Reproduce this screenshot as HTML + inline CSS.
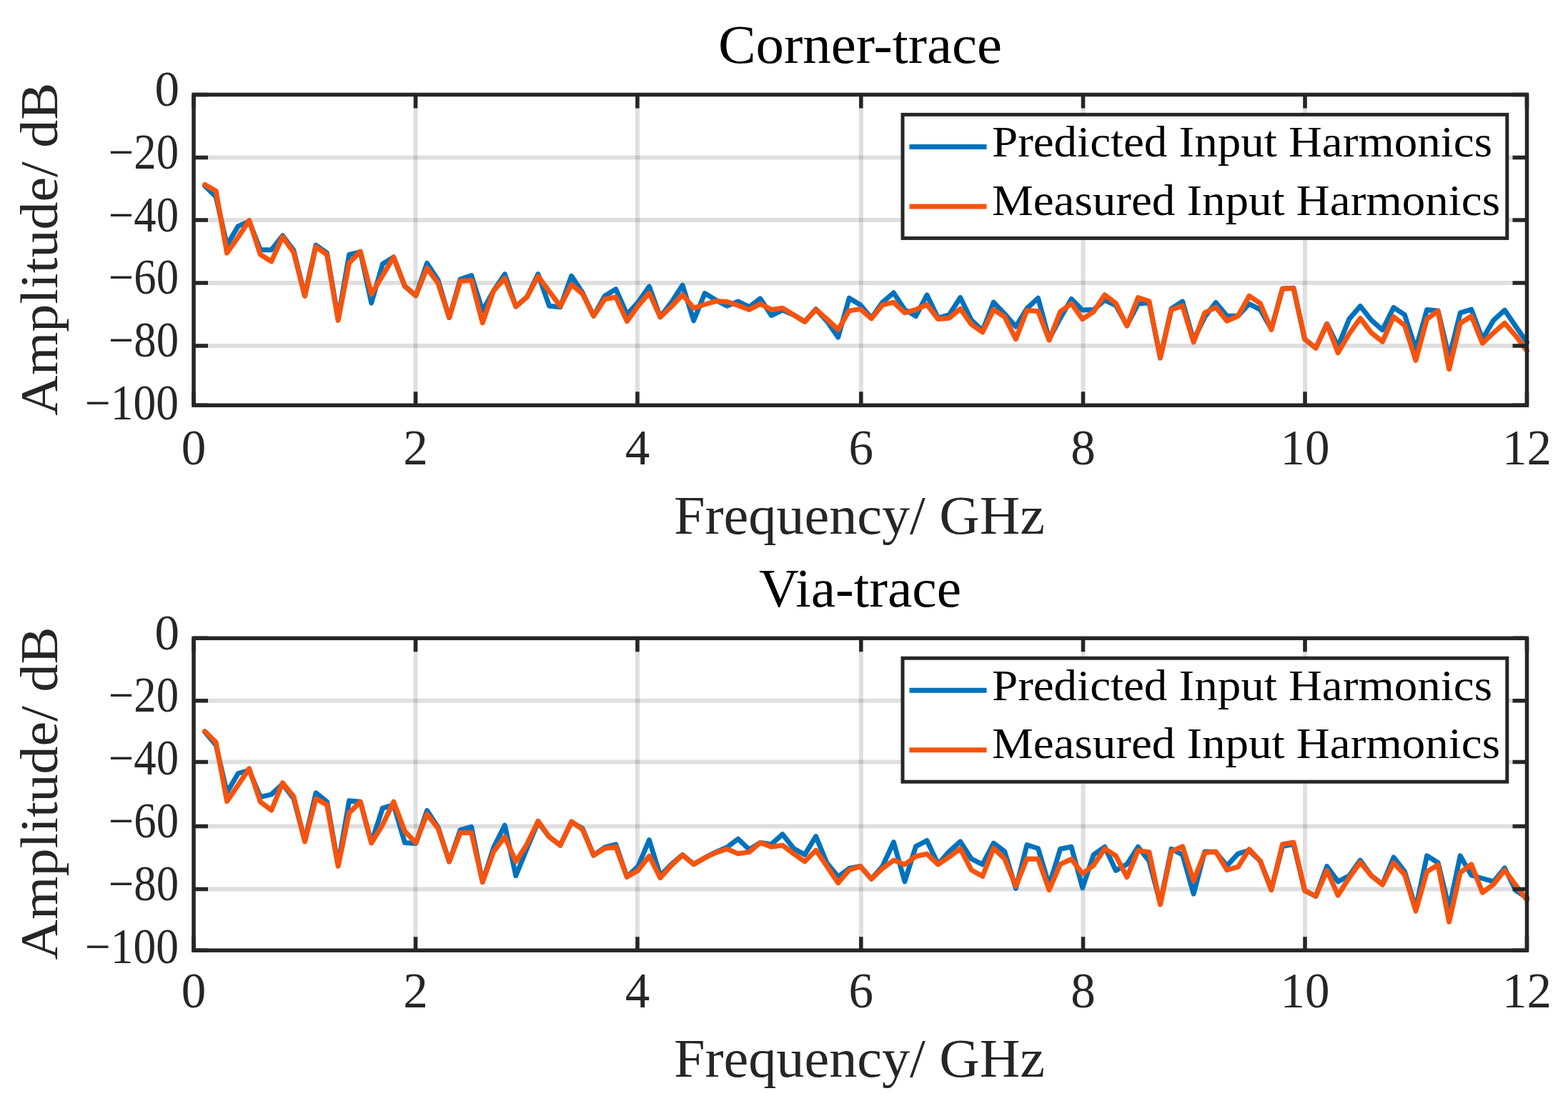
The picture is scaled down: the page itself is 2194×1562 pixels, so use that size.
<!DOCTYPE html><html><head><meta charset="utf-8"><title>Corner-trace / Via-trace harmonics</title><style>html,body{margin:0;padding:0;background:#fff;}svg{display:block;}</style></head><body>
<svg width="2194" height="1562" viewBox="0 0 2194 1562" font-family="'Liberation Serif', serif">
<rect width="2194" height="1562" fill="#fff"/>
<path d="M581.5 132.5V567.3M891.9 132.5V567.3M1204.8 132.5V567.3M1515.5 132.5V567.3M1826.0 132.5V567.3" stroke="#262626" stroke-opacity="0.15" stroke-width="6" fill="none"/>
<path d="M271.0 220.4H2136.5M271.0 308.1H2136.5M271.0 396.0H2136.5M271.0 483.9H2136.5" stroke="#262626" stroke-opacity="0.15" stroke-width="6" fill="none"/>
<polyline points="286.5,259.9 302.1,275.3 317.6,343.1 333.2,316.6 348.7,309.9 364.3,349.7 379.8,349.7 395.4,329.8 410.9,350.4 426.5,413.8 442.0,343.1 457.5,354.1 473.1,446.2 488.6,356.3 504.2,352.6 519.7,424.1 535.3,369.6 550.8,360.0 566.4,400.5 581.9,413.8 597.5,368.3 613.0,392.2 628.6,444.4 644.1,390.7 659.6,385.5 675.2,434.9 690.7,406.9 706.3,383.6 721.8,429.0 737.4,415.7 752.9,383.6 768.5,428.2 784.0,429.7 799.6,386.3 815.1,409.8 830.6,442.2 846.2,414.2 861.7,404.7 877.3,440.0 892.8,423.1 908.4,401.0 923.9,443.7 939.5,423.1 955.0,399.1 970.6,448.8 986.1,410.6 1001.7,420.1 1017.2,428.2 1032.7,421.9 1048.3,429.7 1063.8,417.9 1079.4,441.5 1094.9,434.1 1110.5,440.7 1126.0,450.3 1141.6,432.6 1157.1,449.6 1172.7,472.1 1188.2,417.2 1203.8,426.8 1219.3,445.2 1234.8,423.1 1250.4,409.8 1265.9,433.4 1281.5,442.5 1297.0,412.8 1312.6,445.2 1328.1,440.7 1343.7,416.5 1359.2,448.1 1374.8,462.8 1390.3,423.1 1405.8,439.3 1421.4,457.2 1436.9,431.9 1452.5,417.2 1468.0,474.6 1483.6,445.2 1499.1,418.4 1514.7,434.1 1530.2,433.4 1545.8,420.1 1561.3,427.5 1576.9,455.5 1592.4,425.3 1607.9,423.8 1623.5,500.4 1639.0,431.9 1654.6,421.9 1670.1,476.1 1685.7,443.7 1701.2,423.4 1716.8,442.2 1732.3,442.2 1747.9,425.3 1763.4,433.4 1778.9,460.6 1794.5,403.9 1810.0,403.2 1825.6,474.6 1841.1,487.1 1856.7,453.3 1872.2,484.9 1887.8,446.6 1903.3,428.5 1918.9,448.1 1934.4,461.8 1950.0,430.4 1965.5,440.7 1981.0,489.0 1996.6,433.4 2012.1,434.9 2027.7,500.4 2043.2,437.8 2058.8,433.1 2074.3,474.6 2089.9,448.1 2105.4,434.1 2121.0,456.9 2136.5,479.0" fill="none" stroke="#0072BD" stroke-width="7" stroke-linejoin="round" stroke-linecap="round"/>
<polyline points="286.5,258.4 302.1,267.2 317.6,354.1 333.2,332.0 348.7,308.5 364.3,356.3 379.8,365.9 395.4,331.3 410.9,353.4 426.5,414.5 442.0,345.3 457.5,356.3 473.1,448.4 488.6,368.1 504.2,351.9 519.7,411.6 535.3,385.8 550.8,360.0 566.4,400.5 581.9,413.8 597.5,375.2 613.0,396.6 628.6,444.4 644.1,393.6 659.6,392.2 675.2,451.8 690.7,406.9 706.3,389.5 721.8,429.0 737.4,415.7 752.9,386.6 768.5,407.8 784.0,428.7 799.6,398.3 815.1,411.3 830.6,442.2 846.2,418.7 861.7,415.7 877.3,449.6 892.8,428.2 908.4,410.1 923.9,443.7 939.5,429.0 955.0,412.5 970.6,431.2 986.1,426.0 1001.7,421.6 1017.2,422.3 1032.7,427.5 1048.3,433.4 1063.8,425.3 1079.4,433.4 1094.9,431.2 1110.5,440.7 1126.0,450.3 1141.6,433.1 1157.1,446.6 1172.7,461.4 1188.2,434.9 1203.8,432.6 1219.3,445.9 1234.8,426.8 1250.4,423.1 1265.9,437.8 1281.5,433.4 1297.0,426.3 1312.6,446.6 1328.1,445.2 1343.7,432.2 1359.2,454.0 1374.8,465.0 1390.3,433.4 1405.8,443.7 1421.4,474.6 1436.9,434.6 1452.5,435.6 1468.0,476.1 1483.6,436.3 1499.1,424.8 1514.7,446.6 1530.2,436.3 1545.8,412.8 1561.3,424.6 1576.9,456.2 1592.4,416.5 1607.9,421.6 1623.5,501.1 1639.0,433.4 1654.6,428.2 1670.1,479.0 1685.7,437.8 1701.2,430.1 1716.8,449.3 1732.3,442.2 1747.9,414.2 1763.4,424.6 1778.9,461.4 1794.5,403.9 1810.0,403.5 1825.6,474.6 1841.1,487.1 1856.7,453.7 1872.2,493.8 1887.8,467.3 1903.3,445.5 1918.9,465.8 1934.4,478.3 1950.0,443.4 1965.5,455.5 1981.0,504.4 1996.6,446.6 2012.1,435.2 2027.7,516.6 2043.2,452.5 2058.8,442.5 2074.3,480.5 2089.9,465.8 2105.4,452.2 2121.0,470.2 2136.5,490.8" fill="none" stroke="#F8530C" stroke-width="7" stroke-linejoin="round" stroke-linecap="round"/>
<path d="M271.0 567.3v-19M271.0 132.5v19M581.5 567.3v-19M581.5 132.5v19M891.9 567.3v-19M891.9 132.5v19M1204.8 567.3v-19M1204.8 132.5v19M1515.5 567.3v-19M1515.5 132.5v19M1826.0 567.3v-19M1826.0 132.5v19M2136.5 567.3v-19M2136.5 132.5v19M271.0 132.5h20M2136.5 132.5h-20M271.0 220.4h20M2136.5 220.4h-20M271.0 308.1h20M2136.5 308.1h-20M271.0 396.0h20M2136.5 396.0h-20M271.0 483.9h20M2136.5 483.9h-20M271.0 567.3h20M2136.5 567.3h-20" stroke="#262626" stroke-width="5.5" fill="none"/>
<rect x="271.0" y="132.5" width="1865.5" height="434.8" fill="none" stroke="#262626" stroke-width="5.5"/>
<text x="251.0" y="147.8" font-size="69" text-anchor="end" fill="#262626">0</text>
<text x="250.0" y="235.7" font-size="69" text-anchor="end" textLength="98.0" lengthAdjust="spacingAndGlyphs" fill="#262626">&#8722;20</text>
<text x="250.0" y="323.5" font-size="69" text-anchor="end" textLength="98.0" lengthAdjust="spacingAndGlyphs" fill="#262626">&#8722;40</text>
<text x="250.0" y="411.4" font-size="69" text-anchor="end" textLength="98.0" lengthAdjust="spacingAndGlyphs" fill="#262626">&#8722;60</text>
<text x="250.0" y="499.2" font-size="69" text-anchor="end" textLength="98.0" lengthAdjust="spacingAndGlyphs" fill="#262626">&#8722;80</text>
<text x="250.0" y="587.0" font-size="69" text-anchor="end" textLength="131.0" lengthAdjust="spacingAndGlyphs" fill="#262626">&#8722;100</text>
<text x="271.0" y="649.5" font-size="69" text-anchor="middle" fill="#262626">0</text>
<text x="581.5" y="649.5" font-size="69" text-anchor="middle" fill="#262626">2</text>
<text x="891.9" y="649.5" font-size="69" text-anchor="middle" fill="#262626">4</text>
<text x="1204.8" y="649.5" font-size="69" text-anchor="middle" fill="#262626">6</text>
<text x="1515.5" y="649.5" font-size="69" text-anchor="middle" fill="#262626">8</text>
<text x="1826.0" y="649.5" font-size="69" text-anchor="middle" fill="#262626">10</text>
<text x="2136.5" y="649.5" font-size="69" text-anchor="middle" fill="#262626">12</text>
<text x="1202.5" y="746.6" font-size="75.5" text-anchor="middle" textLength="519.0" lengthAdjust="spacingAndGlyphs" fill="#262626">Frequency/ GHz</text>
<text transform="translate(79.6 348.7) rotate(-90)" x="0" y="0" font-size="75" text-anchor="middle" textLength="466" lengthAdjust="spacingAndGlyphs" fill="#262626">Amplitude/ dB</text>
<text x="1203.5" y="88.2" font-size="76" text-anchor="middle" textLength="397.0" lengthAdjust="spacingAndGlyphs" fill="#000">Corner-trace</text>
<rect x="1263.0" y="160.4" width="845.8" height="173.0" fill="#fff" stroke="#262626" stroke-width="5"/>
<path d="M1272.5 205.4H1380.5" stroke="#0072BD" stroke-width="7"/>
<path d="M1272.5 289.0H1380.5" stroke="#F8530C" stroke-width="7"/>
<text x="1388.0" y="218.9" font-size="60.5" textLength="700.0" lengthAdjust="spacingAndGlyphs" fill="#000">Predicted Input Harmonics</text>
<text x="1388.0" y="300.6" font-size="60.5" textLength="711.0" lengthAdjust="spacingAndGlyphs" fill="#000">Measured Input Harmonics</text>
<path d="M581.5 893.3V1330.2M891.9 893.3V1330.2M1204.8 893.3V1330.2M1515.5 893.3V1330.2M1826.0 893.3V1330.2" stroke="#262626" stroke-opacity="0.15" stroke-width="6" fill="none"/>
<path d="M271.0 980.8H2136.5M271.0 1066.5H2136.5M271.0 1156.5H2136.5M271.0 1244.4H2136.5" stroke="#262626" stroke-opacity="0.15" stroke-width="6" fill="none"/>
<polyline points="286.5,1024.3 302.1,1042.7 317.6,1109.0 333.2,1082.5 348.7,1078.0 364.3,1115.6 379.8,1111.9 395.4,1097.2 410.9,1117.8 426.5,1176.7 442.0,1109.7 457.5,1122.2 473.1,1210.6 488.6,1120.7 504.2,1122.2 519.7,1179.6 535.3,1131.1 550.8,1126.6 566.4,1179.6 581.9,1180.4 597.5,1134.5 613.0,1158.0 628.6,1205.9 644.1,1161.7 659.6,1157.3 675.2,1234.6 690.7,1186.0 706.3,1155.1 721.8,1225.8 737.4,1187.5 752.9,1150.7 768.5,1171.3 784.0,1183.1 799.6,1150.7 815.1,1159.5 830.6,1197.1 846.2,1186.0 861.7,1181.9 877.3,1227.3 892.8,1212.5 908.4,1175.7 923.9,1225.8 939.5,1209.6 955.0,1196.3 970.6,1209.6 986.1,1200.7 1001.7,1192.6 1017.2,1186.0 1032.7,1174.2 1048.3,1189.0 1063.8,1179.4 1079.4,1181.6 1094.9,1167.6 1110.5,1187.5 1126.0,1196.3 1141.6,1170.6 1157.1,1208.1 1172.7,1227.0 1188.2,1215.5 1203.8,1212.5 1219.3,1230.2 1234.8,1212.5 1250.4,1178.7 1265.9,1233.9 1281.5,1184.6 1297.0,1176.5 1312.6,1209.6 1328.1,1191.9 1343.7,1177.9 1359.2,1202.2 1374.8,1209.9 1390.3,1180.1 1405.8,1191.9 1421.4,1243.5 1436.9,1182.6 1452.5,1187.5 1468.0,1239.0 1483.6,1188.2 1499.1,1185.3 1514.7,1242.7 1530.2,1196.3 1545.8,1185.3 1561.3,1218.4 1576.9,1209.6 1592.4,1185.3 1607.9,1205.2 1623.5,1264.1 1639.0,1188.2 1654.6,1196.3 1670.1,1251.1 1685.7,1191.9 1701.2,1192.6 1716.8,1211.8 1732.3,1194.9 1747.9,1190.4 1763.4,1205.2 1778.9,1244.9 1794.5,1184.6 1810.0,1181.6 1825.6,1246.4 1841.1,1254.5 1856.7,1212.5 1872.2,1233.9 1887.8,1225.8 1903.3,1204.1 1918.9,1225.8 1934.4,1237.6 1950.0,1200.0 1965.5,1219.9 1981.0,1271.4 1996.6,1197.8 2012.1,1207.4 2027.7,1271.4 2043.2,1197.8 2058.8,1225.0 2074.3,1229.5 2089.9,1233.9 2105.4,1215.0 2121.0,1246.4 2136.5,1256.7" fill="none" stroke="#0072BD" stroke-width="7" stroke-linejoin="round" stroke-linecap="round"/>
<polyline points="286.5,1023.6 302.1,1039.0 317.6,1121.5 333.2,1098.7 348.7,1075.8 364.3,1122.2 379.8,1134.0 395.4,1095.7 410.9,1114.9 426.5,1177.9 442.0,1117.8 457.5,1126.6 473.1,1212.3 488.6,1137.7 504.2,1122.2 519.7,1179.9 535.3,1154.6 550.8,1122.2 566.4,1163.5 581.9,1179.6 597.5,1139.6 613.0,1159.5 628.6,1205.9 644.1,1165.4 659.6,1165.4 675.2,1234.6 690.7,1191.9 706.3,1171.3 721.8,1205.9 737.4,1181.6 752.9,1149.2 768.5,1171.3 784.0,1183.1 799.6,1149.9 815.1,1161.0 830.6,1197.1 846.2,1187.5 861.7,1185.3 877.3,1227.3 892.8,1218.4 908.4,1198.2 923.9,1228.7 939.5,1211.1 955.0,1196.8 970.6,1209.6 986.1,1200.7 1001.7,1193.4 1017.2,1188.2 1032.7,1194.9 1048.3,1192.6 1063.8,1179.4 1079.4,1185.3 1094.9,1183.1 1110.5,1194.9 1126.0,1205.9 1141.6,1190.1 1157.1,1212.5 1172.7,1235.8 1188.2,1217.7 1203.8,1212.5 1219.3,1230.2 1234.8,1215.5 1250.4,1204.1 1265.9,1210.0 1281.5,1198.5 1297.0,1195.2 1312.6,1209.9 1328.1,1199.3 1343.7,1187.9 1359.2,1217.7 1374.8,1226.5 1390.3,1187.1 1405.8,1202.2 1421.4,1240.5 1436.9,1201.9 1452.5,1202.2 1468.0,1245.7 1483.6,1209.6 1499.1,1202.5 1514.7,1222.8 1530.2,1211.1 1545.8,1187.9 1561.3,1197.8 1576.9,1227.7 1592.4,1190.4 1607.9,1192.6 1623.5,1266.0 1639.0,1191.9 1654.6,1184.8 1670.1,1232.8 1685.7,1193.4 1701.2,1191.9 1716.8,1217.7 1732.3,1213.3 1747.9,1188.7 1763.4,1205.2 1778.9,1245.7 1794.5,1181.6 1810.0,1179.0 1825.6,1246.4 1841.1,1254.5 1856.7,1218.4 1872.2,1253.0 1887.8,1228.7 1903.3,1206.9 1918.9,1225.8 1934.4,1238.3 1950.0,1207.7 1965.5,1224.3 1981.0,1275.1 1996.6,1219.9 2012.1,1210.6 2027.7,1290.3 2043.2,1221.4 2058.8,1209.9 2074.3,1249.3 2089.9,1237.6 2105.4,1218.0 2121.0,1239.0 2136.5,1259.6" fill="none" stroke="#F8530C" stroke-width="7" stroke-linejoin="round" stroke-linecap="round"/>
<path d="M271.0 1330.2v-19M271.0 893.3v19M581.5 1330.2v-19M581.5 893.3v19M891.9 1330.2v-19M891.9 893.3v19M1204.8 1330.2v-19M1204.8 893.3v19M1515.5 1330.2v-19M1515.5 893.3v19M1826.0 1330.2v-19M1826.0 893.3v19M2136.5 1330.2v-19M2136.5 893.3v19M271.0 893.3h20M2136.5 893.3h-20M271.0 980.8h20M2136.5 980.8h-20M271.0 1066.5h20M2136.5 1066.5h-20M271.0 1156.5h20M2136.5 1156.5h-20M271.0 1244.4h20M2136.5 1244.4h-20M271.0 1330.2h20M2136.5 1330.2h-20" stroke="#262626" stroke-width="5.5" fill="none"/>
<rect x="271.0" y="893.3" width="1865.5" height="436.9" fill="none" stroke="#262626" stroke-width="5.5"/>
<text x="251.0" y="908.6" font-size="69" text-anchor="end" fill="#262626">0</text>
<text x="250.0" y="996.4" font-size="69" text-anchor="end" textLength="98.0" lengthAdjust="spacingAndGlyphs" fill="#262626">&#8722;20</text>
<text x="250.0" y="1084.1" font-size="69" text-anchor="end" textLength="98.0" lengthAdjust="spacingAndGlyphs" fill="#262626">&#8722;40</text>
<text x="250.0" y="1171.9" font-size="69" text-anchor="end" textLength="98.0" lengthAdjust="spacingAndGlyphs" fill="#262626">&#8722;60</text>
<text x="250.0" y="1259.7" font-size="69" text-anchor="end" textLength="98.0" lengthAdjust="spacingAndGlyphs" fill="#262626">&#8722;80</text>
<text x="250.0" y="1347.5" font-size="69" text-anchor="end" textLength="131.0" lengthAdjust="spacingAndGlyphs" fill="#262626">&#8722;100</text>
<text x="271.0" y="1409.9" font-size="69" text-anchor="middle" fill="#262626">0</text>
<text x="581.5" y="1409.9" font-size="69" text-anchor="middle" fill="#262626">2</text>
<text x="891.9" y="1409.9" font-size="69" text-anchor="middle" fill="#262626">4</text>
<text x="1204.8" y="1409.9" font-size="69" text-anchor="middle" fill="#262626">6</text>
<text x="1515.5" y="1409.9" font-size="69" text-anchor="middle" fill="#262626">8</text>
<text x="1826.0" y="1409.9" font-size="69" text-anchor="middle" fill="#262626">10</text>
<text x="2136.5" y="1409.9" font-size="69" text-anchor="middle" fill="#262626">12</text>
<text x="1202.5" y="1507.1" font-size="75.5" text-anchor="middle" textLength="519.0" lengthAdjust="spacingAndGlyphs" fill="#262626">Frequency/ GHz</text>
<text transform="translate(79.6 1110.5) rotate(-90)" x="0" y="0" font-size="75" text-anchor="middle" textLength="466" lengthAdjust="spacingAndGlyphs" fill="#262626">Amplitude/ dB</text>
<text x="1203.5" y="849.3" font-size="76" text-anchor="middle" textLength="283.0" lengthAdjust="spacingAndGlyphs" fill="#000">Via-trace</text>
<rect x="1263.0" y="921.2" width="845.8" height="173.0" fill="#fff" stroke="#262626" stroke-width="5"/>
<path d="M1272.5 966.2H1380.5" stroke="#0072BD" stroke-width="7"/>
<path d="M1272.5 1049.8H1380.5" stroke="#F8530C" stroke-width="7"/>
<text x="1388.0" y="979.7" font-size="60.5" textLength="700.0" lengthAdjust="spacingAndGlyphs" fill="#000">Predicted Input Harmonics</text>
<text x="1388.0" y="1061.4" font-size="60.5" textLength="711.0" lengthAdjust="spacingAndGlyphs" fill="#000">Measured Input Harmonics</text>
</svg></body></html>
